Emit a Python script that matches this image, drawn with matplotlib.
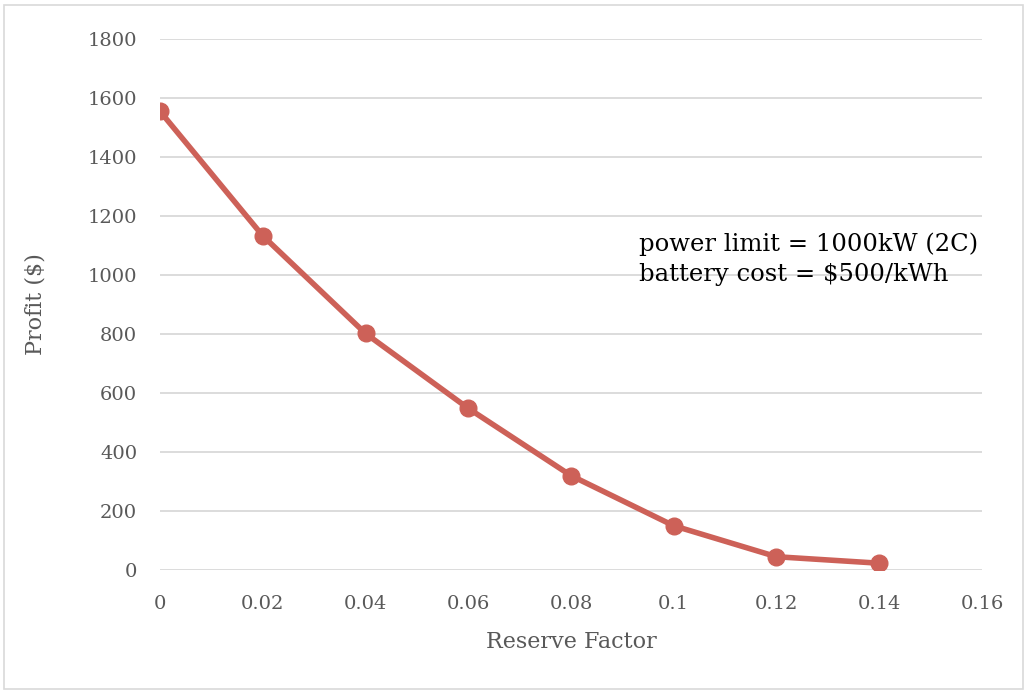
import matplotlib
matplotlib.use("Agg")
import matplotlib.pyplot as plt
from matplotlib.patches import Rectangle

# data
reserve_factor = [0, 0.02, 0.04, 0.06, 0.08, 0.10, 0.12, 0.14]
profit = [1555, 1133, 802, 548, 320, 150, 45, 23]
x_ticks = [0, 0.02, 0.04, 0.06, 0.08, 0.1, 0.12, 0.14, 0.16]
x_tick_labels = ["0", "0.02", "0.04", "0.06", "0.08", "0.1", "0.12", "0.14", "0.16"]
y_ticks = [0, 200, 400, 600, 800, 1000, 1200, 1400, 1600, 1800]

plt.rcParams['font.family'] = ['DejaVu Serif']
txt = '#595959'
red = '#CD6158'

fig = plt.figure(figsize=(10.29, 6.92), dpi=100)
fig.patches.append(Rectangle((0.004, 0.004), 0.99, 0.989, transform=fig.transFigure,
                             fill=False, edgecolor='#D9D9D9', linewidth=1.2))
ax = fig.add_axes([0.1555, 0.1763, 0.7988, 0.7673])

ax.plot(reserve_factor, profit, color=red, linewidth=4, marker='o',
        markersize=12, solid_capstyle='round', zorder=3)

ax.set_xlim(0, 0.16)
ax.set_ylim(0, 1800)
ax.set_xticks(x_ticks)
ax.set_xticklabels(x_tick_labels)
ax.set_yticks(y_ticks)
ax.grid(axis='y', color='#D9D9D9', linewidth=1.3)
ax.set_axisbelow(True)
for s in ax.spines.values():
    s.set_visible(False)
ax.tick_params(length=0, labelsize=14, colors=txt)
ax.tick_params(axis='x', pad=18)
ax.tick_params(axis='y', pad=16.5)

ax.set_xlabel('Reserve Factor', fontsize=16, color=txt, va='center')
ax.set_ylabel('Profit ($)', fontsize=16, color=txt, va='center')
ax.xaxis.set_label_coords(0.5, -0.1356)
ax.yaxis.set_label_coords(-0.152, 0.5)

ax.text(0.0932, 1054, 'power limit = 1000kW (2C)\nbattery cost = $500/kWh',
        fontsize=17.5, color='black', linespacing=1.4, va='center', ha='left')

fig.savefig('out.png', dpi=100)
